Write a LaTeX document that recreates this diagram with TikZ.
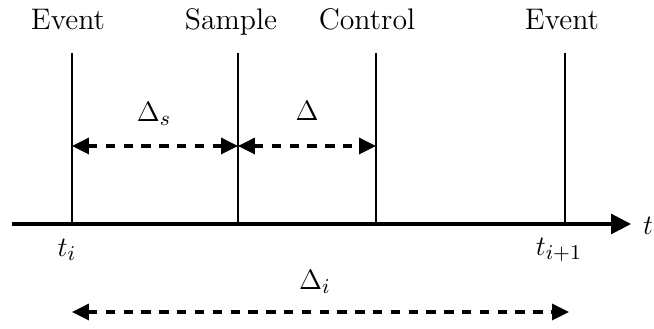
\documentclass[tikz,border=0pt]{standalone}
\usepackage{tikz}
\usetikzlibrary{arrows.meta}

\tikzset{
  tick/.style={line width=1.1pt},
  gap/.style={line width=1.4pt, dash pattern=on 4pt off 3.6pt, {Triangle[length=7.2pt,width=6.8pt]}-{Triangle[length=7.2pt,width=6.8pt]}},
  lbl/.style={font=\fontsize{12.7pt}{15pt}\selectfont, inner sep=0pt}
}

\begin{document}
\begin{tikzpicture}[x=0.015cm,y=-0.015cm]
\useasboundingbox (0,0) rectangle (654,329);
\node[lbl,anchor=base] (E1) at (68,30) {Event};
\node[lbl,anchor=base] (S) at (231,30) {Sample};
\node[lbl,anchor=base] (C) at (367,30) {Control};
\node[lbl,anchor=base] (E2) at (562,30) {Event};
\coordinate (T1) at (72,53);
\coordinate (T2) at (238,53);
\coordinate (T3) at (376,53);
\coordinate (T4) at (565,53);
\coordinate (B1) at (72,224);
\coordinate (B2) at (238,224);
\coordinate (B3) at (376,224);
\coordinate (B4) at (565,224);
\coordinate (A0) at (12,224);
\coordinate (A1) at (631,224);
\node[lbl] (t) at (648,226) {$t$};
\node[lbl] (ti) at (67,250) {$t_i$};
\node[lbl] (ti1) at (559,250) {$t_{i+1}$};
\node[lbl] (Ds) at (154,114) {$\Delta_s$};
\node[lbl] (D) at (307,111) {$\Delta$};
\node[lbl] (Di) at (315,282) {$\Delta_i$};
\coordinate (S1) at (72,146);
\coordinate (S2) at (238,146);
\coordinate (S3) at (376,146);
\coordinate (I1) at (72,312);
\coordinate (I2) at (569,312);
\draw[tick] (T1) -- (B1);
\draw[tick] (T2) -- (B2);
\draw[tick] (T3) -- (B3);
\draw[tick] (T4) -- (B4);
\draw[line width=1.3pt, -{Triangle[length=8.5pt,width=8.5pt]}] (A0) -- (A1);
\draw[gap] (S1) -- (S2);
\draw[gap] (S2) -- (S3);
\draw[gap] (I1) -- (I2);
\end{tikzpicture}
\end{document}
